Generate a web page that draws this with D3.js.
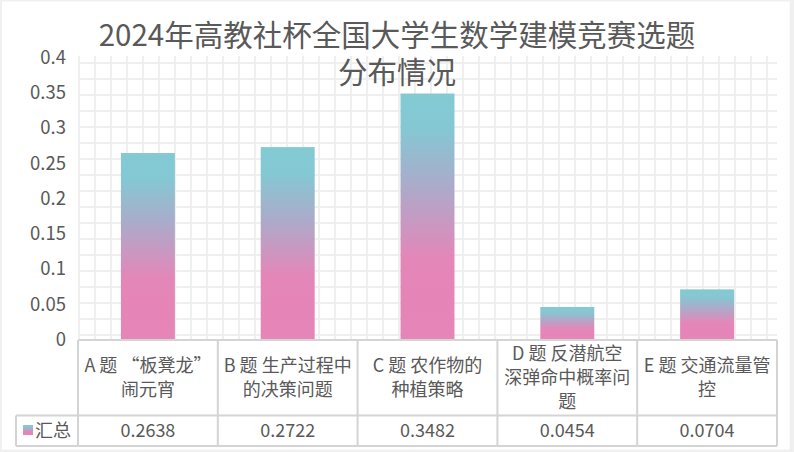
<!DOCTYPE html>
<html>
<head>
<meta charset="utf-8">
<script src="https://cdn.jsdelivr.net/npm/d3@7"></script>
<style>
  html, body { margin: 0; padding: 0; background: #f0f0f0; }
  svg { display: block; }
  text { font-family: "Noto Sans CJK SC", "Noto Sans", sans-serif; fill: #595959; }
</style>
</head>
<body>
<svg id="chart" width="794" height="452"></svg>
<script>
// ---- data ----
const titleLines = ["2024年高教社杯全国大学生数学建模竞赛选题", "分布情况"];
const categories = [
  "A 题 “板凳龙”\n闹元宵",
  "B 题 生产过程中\n的决策问题",
  "C 题 农作物的\n种植策略",
  "D 题 反潜航空\n深弹命中概率问\n题",
  "E 题 交通流量管\n控"
];
const values = [0.2638, 0.2722, 0.3482, 0.0454, 0.0704];
const valueLabels = ["0.2638", "0.2722", "0.3482", "0.0454", "0.0704"];
const seriesName = "汇总";
const yTicks = [0, 0.05, 0.1, 0.15, 0.2, 0.25, 0.3, 0.35, 0.4];
const yTickLabels = ["0", "0.05", "0.1", "0.15", "0.2", "0.25", "0.3", "0.35", "0.4"];

// ---- layout ----
const plot = { left: 78, right: 777, top: 56, bottom: 339 };
const table = { top: 340, mid: 415.5, bottom: 446, legendLeft: 16 };

const svg = d3.select("#chart");
const defs = svg.append("defs");

// chart background
svg.append("rect").attr("x", 2).attr("y", 1.5).attr("width", 787.7).attr("height", 448)
  .attr("fill", "#ffffff");

// gradients
const grad = defs.append("linearGradient").attr("id", "barGrad")
  .attr("x1", 0).attr("y1", 0).attr("x2", 0).attr("y2", 1);
[[0, "#83cad3"], [0.14, "#84c8d3"], [0.36, "#a8adcb"], [0.68, "#e586b8"], [1, "#e685b7"]]
  .forEach(([o, c]) => grad.append("stop").attr("offset", o).attr("stop-color", c));

// grid pattern
const pat = defs.append("pattern").attr("id", "gridPat")
  .attr("patternUnits", "userSpaceOnUse")
  .attr("x", plot.left).attr("y", 55).attr("width", 16).attr("height", 16);
pat.append("rect").attr("x", 0).attr("y", 0).attr("width", 16).attr("height", 16).attr("fill", "#ffffff");
pat.append("rect").attr("x", 0).attr("y", 0).attr("width", 2).attr("height", 16).attr("fill", "#efefef");
pat.append("rect").attr("x", 0).attr("y", 7).attr("width", 16).attr("height", 2).attr("fill", "#efefef");

svg.append("rect")
  .attr("x", plot.left).attr("y", plot.top)
  .attr("width", plot.right - plot.left).attr("height", plot.bottom - plot.top)
  .attr("fill", "url(#gridPat)");

// scales
const y = d3.scaleLinear().domain([0, 0.4]).range([339, 57]);
const xCol = d3.scaleBand().domain(categories).range([plot.left, plot.right]).padding(0);
const xBar = d3.scaleBand().domain(categories).range([plot.left, plot.right])
  .paddingInner(0.614).paddingOuter(0.307);

// y axis
const yAxis = d3.axisLeft(y).tickValues(yTicks).tickSize(0)
  .tickFormat((d, i) => yTickLabels[i]);
const gy = svg.append("g").attr("transform", "translate(66,0)").call(yAxis);
gy.select(".domain").remove();
gy.selectAll("text").attr("font-size", 18.5).attr("fill", "#595959")
  .style("font-family", '"Noto Sans CJK SC", "Noto Sans", sans-serif').attr("x", 0).attr("dy", "0.35em");

// bars
svg.append("g").selectAll("rect").data(categories).join("rect")
  .attr("x", d => xBar(d))
  .attr("width", xBar.bandwidth())
  .attr("y", (d, i) => y(values[i]))
  .attr("height", (d, i) => y(0) - y(values[i]))
  .attr("fill", "url(#barGrad)");

// title (one text, two lines)
const title = svg.append("text").attr("text-anchor", "middle").attr("font-size", 29.5);
title.selectAll("tspan").data(titleLines).join("tspan")
  .attr("x", 397).attr("y", (d, i) => 46 + i * 37)
  .text(d => d);

// data table
const lineColor = "#d4d4d4";
const tg = svg.append("g");
tg.append("line").attr("x1", plot.left).attr("x2", plot.right)
  .attr("y1", table.top).attr("y2", table.top).attr("stroke", lineColor).attr("stroke-width", 2);
tg.append("line").attr("x1", table.legendLeft).attr("x2", plot.right)
  .attr("y1", table.mid).attr("y2", table.mid).attr("stroke", lineColor).attr("stroke-width", 2);
tg.append("line").attr("x1", table.legendLeft).attr("x2", plot.right)
  .attr("y1", table.bottom).attr("y2", table.bottom).attr("stroke", lineColor).attr("stroke-width", 2);
tg.append("line").attr("x1", table.legendLeft).attr("x2", table.legendLeft)
  .attr("y1", table.mid).attr("y2", table.bottom).attr("stroke", lineColor).attr("stroke-width", 2);
const colEdges = categories.map(c => xCol(c)).concat([plot.right]);
tg.selectAll("line.col").data(colEdges).join("line").attr("class", "col")
  .attr("x1", d => d).attr("x2", d => d)
  .attr("y1", table.top).attr("y2", table.bottom)
  .attr("stroke", lineColor).attr("stroke-width", 2);

// category labels
const lh = 24;
categories.forEach((c, i) => {
  const lines = c.split("\n");
  const cx = xCol(c) + xCol.bandwidth() / 2;
  const cy = (table.top + table.mid) / 2;
  const t = tg.append("text").attr("text-anchor", "middle").attr("font-size", 18);
  lines.forEach((ln, j) => {
    t.append("tspan").attr("x", cx)
      .attr("y", cy + (j - (lines.length - 1) / 2) * lh)
      .attr("dy", "0.35em").text(ln);
  });
});

// value labels
tg.selectAll("text.val").data(categories).join("text").attr("class", "val")
  .attr("x", d => xCol(d) + xCol.bandwidth() / 2)
  .attr("y", (table.mid + table.bottom) / 2).attr("dy", "0.35em")
  .attr("text-anchor", "middle").attr("font-size", 18)
  .text((d, i) => valueLabels[i]);

// legend key
tg.append("rect").attr("x", 23).attr("y", 425).attr("width", 10).attr("height", 10)
  .attr("fill", "url(#barGrad)");
tg.append("text").attr("x", 35).attr("y", (table.mid + table.bottom) / 2).attr("dy", "0.35em")
  .attr("font-size", 18).text(seriesName);
</script>
</body>
</html>
